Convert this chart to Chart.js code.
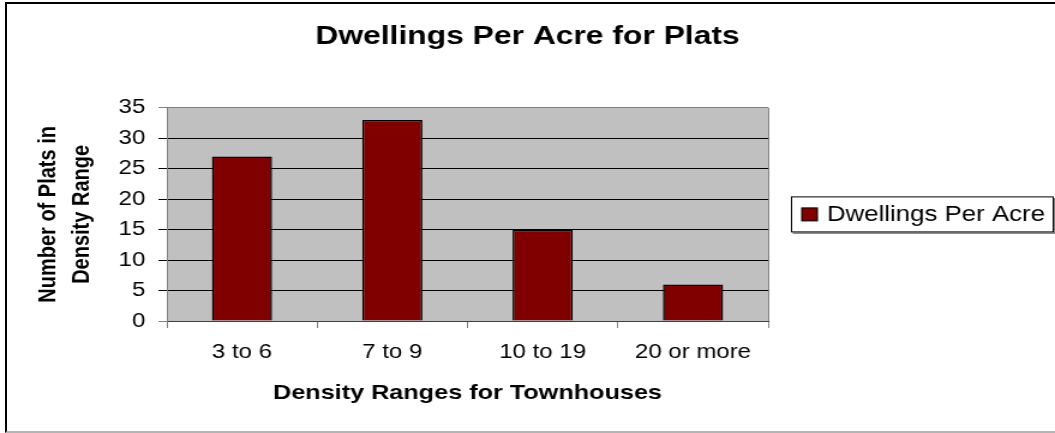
<!DOCTYPE html>
<html>
<head>
<meta charset="utf-8">
<script src="https://cdn.jsdelivr.net/npm/chart.js@4.4.1/dist/chart.umd.min.js"></script>
<style>
  html, body { margin: 0; padding: 0; background: #fff; overflow: hidden; }
  #wrap { position: relative; width: 1055px; height: 433px; }
  /* canvas is drawn narrower and stretched sideways, like the original picture */
  #chart { position: absolute; left: 0; top: 0; width: 1055px !important; height: 433px !important; }
  #frame {
    position: absolute; left: 5px; top: 2px; width: 1080px; height: 427px;
    border-left: 2px solid #000; border-top: 2px solid #000; border-bottom: 2px solid #b4b4b4;
    pointer-events: none;
  }
</style>
</head>
<body>
<div id="wrap">
  <canvas id="chart" width="879" height="433"></canvas>
  <div id="frame"></div>
</div>
<script>
// --- DATA ---
const categories = ['3 to 6', '7 to 9', '10 to 19', '20 or more'];
const plats = [27, 33, 15, 6];
const seriesName = 'Dwellings Per Acre';
const chartTitle = 'Dwellings Per Acre for Plats';
const xTitle = 'Density Ranges for Townhouses';
const yTitle = ['Number of Plats in', 'Density Range'];
const yMax = 35;
const yStep = 5;

const FONT = "'Liberation Sans', Arial, sans-serif";

// grey plot area behind grid and bars
const plotBackground = {
    id: 'plotBackground',
    beforeDraw(chart) {
        const { ctx, chartArea: a } = chart;
        ctx.save();
        ctx.fillStyle = '#c0c0c0';
        ctx.fillRect(a.left, a.top, a.right - a.left, a.bottom - a.top);
        ctx.restore();
    }
};

// Excel style legend: framed box with a shadow, right of the plot
const boxedLegend = {
    id: 'boxedLegend',
    afterDraw(chart) {
        const { ctx, chartArea: a } = chart;
        const ds = chart.data.datasets[0];
        const left = a.right + 19;
        const w = chart.width - 1 - left;
        const cy = (a.top + a.bottom) / 2;
        const h = 36;
        const top = cy - h / 2;

        ctx.save();
        ctx.fillStyle = '#808080';
        ctx.fillRect(left + 1.5, top + 1.5, w, h);
        ctx.fillStyle = '#fff';
        ctx.fillRect(left, top, w, h);
        ctx.strokeStyle = '#000';
        ctx.lineWidth = 1;
        ctx.strokeRect(left + 0.5, top + 0.5, w - 1, h - 1);

        ctx.fillStyle = ds.backgroundColor;
        ctx.fillRect(left + 9, cy - 6.5, 13, 13);
        ctx.strokeRect(left + 9, cy - 6.5, 13, 13);

        ctx.fillStyle = '#000';
        ctx.font = `21.5px ${FONT}`;
        ctx.textBaseline = 'middle';
        ctx.textAlign = 'left';
        ctx.fillText(ds.label, left + 30, cy + 1);
        ctx.restore();
    }
};

const ctx = document.getElementById('chart').getContext('2d');
new Chart(ctx, {
    type: 'bar',
    data: {
        labels: categories,
        datasets: [{
            label: seriesName,
            data: plats,
            yAxisID: 'y',
            backgroundColor: '#800000',
            borderColor: '#000',
            borderWidth: 1.5,
            barPercentage: 0.4,
            categoryPercentage: 1.0
        }]
    },
    options: {
        responsive: false,
        animation: false,
        layout: { padding: 0 },
        plugins: {
            legend: { display: false },
            tooltip: { enabled: false },
            title: {
                display: true,
                text: chartTitle,
                color: '#000',
                font: { family: FONT, size: 26.5, weight: 'bold' },
                padding: { top: 21, bottom: 55 }
            }
        },
        scales: {
            x: {
                grid: {
                    offset: true,
                    drawOnChartArea: true,
                    color: c => c.type === 'tick' ? 'rgba(0,0,0,0)' : '#808080',
                    tickColor: '#808080',
                    tickLength: 7
                },
                border: { display: true, color: '#404040' },
                ticks: {
                    color: '#000',
                    font: { family: FONT, size: 20 },
                    padding: 12,
                    maxRotation: 0,
                    autoSkip: false
                },
                title: {
                    display: true,
                    text: xTitle,
                    color: '#000',
                    font: { family: FONT, size: 21, weight: 'bold' },
                    padding: { top: 0, bottom: 27 }
                },
                afterFit: s => { s.height = 112; }
            },
            y: {
                min: 0,
                max: yMax,
                grid: {
                    color: c => (c.tick && (c.tick.value === 0 || c.tick.value === yMax)) ? '#808080' : '#000',
                    tickLength: 7
                },
                border: { color: '#808080' },
                ticks: {
                    stepSize: yStep,
                    color: '#000',
                    font: { family: FONT, size: 20 },
                    padding: 11
                },
                title: {
                    display: true,
                    text: yTitle,
                    color: '#000',
                    font: { family: FONT, size: 20, weight: 'bold', lineHeight: 1.39 },
                    padding: { top: 27, bottom: 0 }
                },
                afterFit: s => { s.width = 139; }
            },
            // empty axis that only keeps room for the legend box
            legendSpace: {
                type: 'linear',
                position: 'right',
                display: true,
                grid: { display: false },
                border: { display: false },
                ticks: { display: false },
                afterFit: s => { s.width = 239; }
            }
        }
    },
    plugins: [plotBackground, boxedLegend]
});
</script>
</body>
</html>
